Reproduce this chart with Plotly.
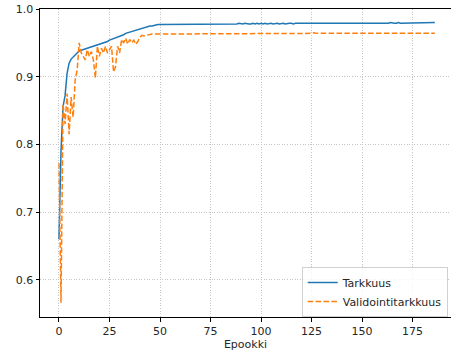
import plotly.graph_objects as go

epochs = list(range(187))

train_acc = [
    0.660, 0.790, 0.856, 0.872, 0.905, 0.920, 0.926, 0.929, 0.931, 0.935,
    0.938, 0.939, 0.940, 0.941, 0.941, 0.943, 0.943, 0.944, 0.946, 0.946,
    0.948, 0.949, 0.950, 0.951, 0.952, 0.954, 0.955, 0.956, 0.957, 0.959,
    0.960, 0.961, 0.962, 0.964, 0.965, 0.966, 0.967, 0.968, 0.969, 0.970,
    0.971, 0.972, 0.973, 0.973, 0.974, 0.975, 0.975, 0.976, 0.976, 0.977,
    0.977, 0.977, 0.978, 0.978, 0.978, 0.978, 0.978, 0.978, 0.978, 0.978,
    0.978, 0.978, 0.978, 0.978, 0.978, 0.978, 0.978, 0.978, 0.978, 0.978,
    0.978, 0.978, 0.978, 0.978, 0.978, 0.978, 0.978, 0.978, 0.978, 0.978,
    0.978, 0.978, 0.978, 0.978, 0.978, 0.978, 0.978, 0.978, 0.978, 0.979,
    0.978, 0.978, 0.979, 0.978, 0.978, 0.978, 0.979, 0.978, 0.979, 0.978,
    0.979, 0.978, 0.979, 0.978, 0.979, 0.979, 0.978, 0.979, 0.979, 0.978,
    0.979, 0.979, 0.978, 0.979, 0.979, 0.979, 0.978, 0.979, 0.979, 0.979,
    0.979, 0.978, 0.979, 0.979, 0.979, 0.979, 0.979, 0.979, 0.978, 0.979,
    0.979, 0.979, 0.979, 0.979, 0.979, 0.979, 0.979, 0.979, 0.978, 0.979,
    0.979, 0.979, 0.979, 0.979, 0.979, 0.979, 0.979, 0.979, 0.979, 0.979,
    0.979, 0.979, 0.979, 0.979, 0.979, 0.979, 0.979, 0.979, 0.979, 0.979,
    0.979, 0.979, 0.979, 0.979, 0.980, 0.979, 0.979, 0.979, 0.980, 0.979,
    0.979, 0.980, 0.979, 0.979, 0.980, 0.979, 0.980, 0.979, 0.980, 0.980,
    0.980, 0.979, 0.980, 0.980, 0.980, 0.980, 0.980,
]

val_acc = [
    0.772, 0.566, 0.860, 0.830, 0.875, 0.815, 0.870, 0.840, 0.895, 0.910,
    0.950, 0.935, 0.930, 0.925, 0.940, 0.930, 0.937, 0.925, 0.898, 0.945,
    0.930, 0.942, 0.935, 0.945, 0.935, 0.940, 0.945, 0.907, 0.915, 0.945,
    0.935, 0.955, 0.950, 0.957, 0.948, 0.955, 0.950, 0.954, 0.948, 0.952,
    0.958, 0.961, 0.960, 0.961, 0.962, 0.962, 0.963, 0.963, 0.963, 0.963,
    0.964, 0.963, 0.964, 0.964, 0.963, 0.964, 0.964, 0.964, 0.963, 0.964,
    0.964, 0.964, 0.964, 0.963, 0.964, 0.964, 0.964, 0.964, 0.964, 0.963,
    0.964, 0.964, 0.964, 0.964, 0.964, 0.964, 0.963, 0.964, 0.964, 0.964,
    0.964, 0.964, 0.964, 0.964, 0.963, 0.964, 0.964, 0.964, 0.964, 0.964,
    0.964, 0.964, 0.963, 0.964, 0.964, 0.964, 0.964, 0.964, 0.964, 0.964,
    0.964, 0.964, 0.964, 0.964, 0.964, 0.964, 0.964, 0.964, 0.964, 0.964,
    0.964, 0.964, 0.964, 0.964, 0.964, 0.964, 0.964, 0.964, 0.964, 0.964,
    0.964, 0.964, 0.964, 0.964, 0.964, 0.964, 0.965, 0.964, 0.964, 0.964,
    0.964, 0.964, 0.964, 0.964, 0.964, 0.964, 0.964, 0.964, 0.964, 0.964,
    0.965, 0.964, 0.964, 0.964, 0.964, 0.964, 0.964, 0.964, 0.964, 0.965,
    0.964, 0.964, 0.964, 0.964, 0.964, 0.964, 0.964, 0.964, 0.964, 0.964,
    0.964, 0.964, 0.964, 0.964, 0.964, 0.964, 0.964, 0.964, 0.964, 0.964,
    0.964, 0.964, 0.964, 0.964, 0.964, 0.964, 0.964, 0.964, 0.964, 0.964,
    0.964, 0.964, 0.964, 0.964, 0.964, 0.964, 0.964,
]

x_ticks = [0, 25, 50, 75, 100, 125, 150, 175]
y_ticks = [0.6, 0.7, 0.8, 0.9, 1.0]

font = "DejaVu Sans"
fs = 11

fig = go.Figure()
fig.add_trace(go.Scatter(
    x=epochs, y=train_acc, mode="lines", name="Tarkkuus",
    line=dict(color="#1f77b4", width=1.5),
))
fig.add_trace(go.Scatter(
    x=epochs, y=val_acc, mode="lines", name="Validointitarkkuus",
    line=dict(color="#ff7f0e", width=1.5, dash="5.5px,2.4px"),
))

grid = dict(showgrid=True, gridcolor="#c4c4c4", gridwidth=0.8, griddash="1px,1.6px")

fig.update_layout(
    width=451, height=355,
    margin=dict(l=40, r=0, t=9, b=38),
    paper_bgcolor="white", plot_bgcolor="white",
    font=dict(family=font, size=fs, color="#262626"),
    legend=dict(
        x=0.992, y=0.0, xanchor="right", yanchor="bottom",
        bgcolor="rgba(255,255,255,0.8)", bordercolor="#d0d0d0", borderwidth=1,
        font=dict(size=fs, family=font, color="#262626"),
        tracegroupgap=0, itemwidth=30,
    ),
    xaxis=dict(
        range=[-9.4, 194.0], tickvals=x_ticks,
        showline=True, linecolor="black", linewidth=1, mirror=True,
        ticks="outside", ticklen=3.5, tickcolor="black", tickwidth=0.8,
        zeroline=False,
        title=dict(text="Epookki", font=dict(size=fs, family=font), standoff=3),
        **grid,
    ),
    yaxis=dict(
        range=[0.545, 1.0], tickvals=y_ticks, tickformat=".1f",
        showline=True, linecolor="black", linewidth=1, mirror=False,
        ticks="outside", ticklen=3.5, tickcolor="black", tickwidth=0.8,
        zeroline=False,
        **grid,
    ),
)

fig.write_html("out.html")
